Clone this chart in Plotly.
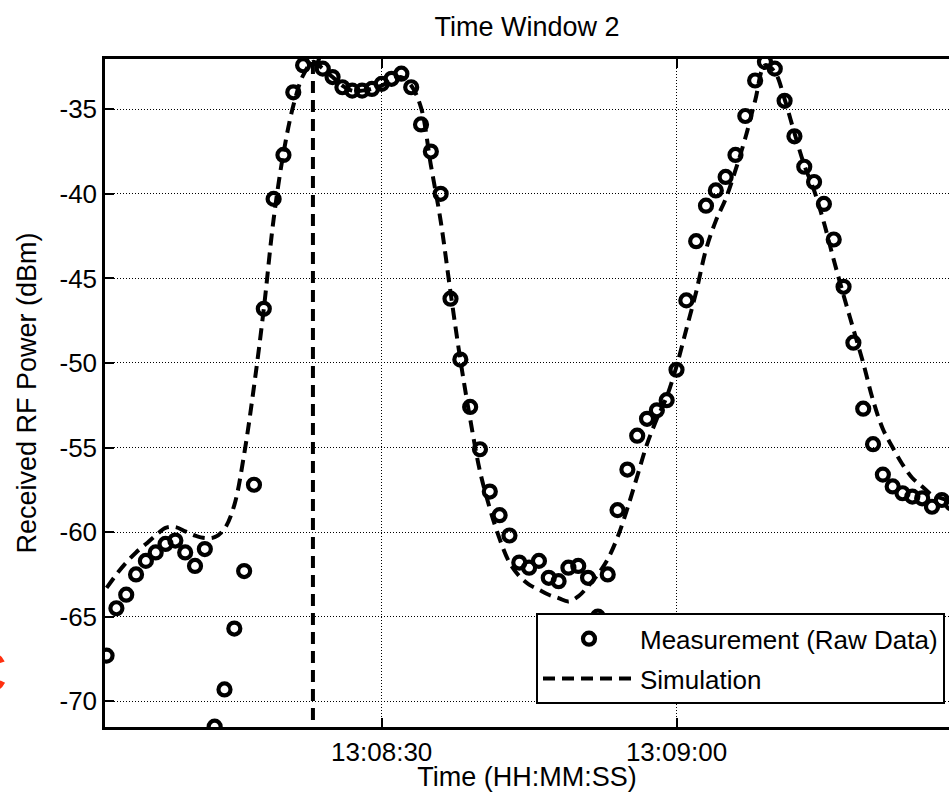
import plotly.graph_objects as go

# ---- data (seconds after 13:08:00) ----
meas_t = list(range(2, 89))
meas_v = [-67.3, -64.5, -63.7, -62.5, -61.7, -61.2, -60.7, -60.5, -61.2, -62.0,
          -61.0, -71.5, -69.3, -65.7, -62.3, -57.2, -46.8, -40.3, -37.7, -34.0,
          -32.4, -32.0, -32.6, -33.1, -33.7, -33.9, -33.9, -33.8, -33.5, -33.2,
          -32.9, -33.7, -35.9, -37.5, -40.0, -46.2, -49.8, -52.6, -55.1, -57.6,
          -59.0, -60.2, -61.8, -62.1, -61.7, -62.7, -62.9, -62.1, -62.0, -62.7,
          -65.0, -62.5, -58.7, -56.3, -54.3, -53.3, -52.8, -52.2, -50.4, -46.3,
          -42.8, -40.7, -39.8, -39.0, -37.7, -35.4, -33.3, -32.2, -32.6, -34.5,
          -36.6, -38.4, -39.3, -40.6, -42.7, -45.5, -48.8, -52.7, -54.8, -56.6,
          -57.3, -57.7, -57.9, -58.0, -58.5, -58.1, -58.3]

sim_t = list(range(2, 89))
sim_v = [-63.3, -62.5, -61.8, -61.2, -60.7, -60.2, -59.75, -59.7, -59.95, -60.2,
         -60.35, -60.3, -59.8, -58.4, -55.4, -51.4, -46.8, -41.5, -37.6, -34.8,
         -33.0, -32.2, -32.6, -33.1, -33.6, -33.9, -33.9, -33.8, -33.6, -33.3,
         -33.1, -33.6, -34.9, -38.3, -41.6, -45.8, -49.8, -53.3, -56.4, -58.6,
         -60.4, -61.8, -62.6, -63.1, -63.4, -63.7, -63.9, -64.1, -63.8, -63.2,
         -62.5, -61.6, -60.3, -58.6, -56.7, -54.8, -53.3, -52.0, -50.2, -48.0,
         -45.8, -43.3, -41.6, -40.3, -38.6, -36.7, -34.5, -32.4, -32.8, -34.4,
         -36.4, -38.3, -39.8, -41.7, -43.9, -46.0, -48.0, -50.0, -52.2, -53.9,
         -55.0, -56.0, -56.8, -57.3, -57.8, -58.0, -58.2]

cursor_t = [23, 23]
cursor_v = [-32.2, -71.6]

x_tickvals = [30, 60]
x_ticktext = ["13:08:30", "13:09:00"]
y_tickvals = [-70, -65, -60, -55, -50, -45, -40, -35]
y_ticktext = ["-70", "-65", "-60", "-55", "-50", "-45", "-40", "-35"]

FONT = "Liberation Sans, Arial, Helvetica, sans-serif"
W, H = 949, 792
L, R, T, B = 105, 0, 59, 65
pw, ph = W - L - R, H - T - B

fig = go.Figure()
fig.add_trace(go.Scatter(
    x=meas_t, y=meas_v, mode="markers", name="Measurement (Raw Data)",
    legendgroup="m",
    marker=dict(symbol="circle-open", size=12, color="black",
                line=dict(width=4.2, color="black")),
))
fig.add_trace(go.Scatter(
    x=sim_t, y=sim_v, mode="lines", name="Simulation", legendgroup="s",
    line=dict(color="black", width=4, dash="12px,7px", shape="spline"),
))
fig.add_trace(go.Scatter(
    x=cursor_t, y=cursor_v, mode="lines", showlegend=False,
    line=dict(color="black", width=4, dash="12px,7px"),
))

axis_common = dict(
    showline=True, linecolor="black", linewidth=2.5,
    ticks="inside", ticklen=9, tickwidth=1.5, tickcolor="black",
    showgrid=True, gridcolor="black", gridwidth=1, griddash="1px,2px",
    zeroline=False,
    tickfont=dict(family=FONT, size=26, color="black"),
)

fig.update_layout(
    width=W, height=H,
    margin=dict(l=L, r=R, t=T, b=B, autoexpand=False),
    paper_bgcolor="white", plot_bgcolor="white",
    font=dict(family=FONT, size=26, color="black"),
    title=dict(text="Time Window 2", x=0.5, xref="paper", xanchor="center",
               y=1 - 27 / H, yref="container", yanchor="middle",
               font=dict(family=FONT, size=27, color="black")),
    xaxis=dict(range=[1.84, 87.73], tickvals=x_tickvals, ticktext=x_ticktext,
               mirror="ticks",
               title=dict(text="Time (HH:MM:SS)", standoff=6,
                          font=dict(family=FONT, size=27, color="black")),
               **axis_common),
    yaxis=dict(range=[-71.52, -32.03], tickvals=y_tickvals, ticktext=y_ticktext,
               mirror=False,
               title=dict(text="Received RF Power (dBm)", standoff=16,
                          font=dict(family=FONT, size=27, color="black")),
               **axis_common),
    legend=dict(x=(536 - L) / pw, y=(726.7 - 613) / ph, xanchor="left",
                yanchor="top", bordercolor="black", borderwidth=2,
                bgcolor="white", itemwidth=92, traceorder="grouped",
                tracegroupgap=3,
                font=dict(family=FONT, size=26, color="black")),
    annotations=[dict(text="C", xref="paper", yref="paper",
                      x=(9 - L) / pw, y=(726.7 - 672) / ph, xanchor="right",
                      yanchor="middle", showarrow=False,
                      font=dict(family=FONT, size=60, color="#ff3010"))],
)

fig.write_html("out.html")
